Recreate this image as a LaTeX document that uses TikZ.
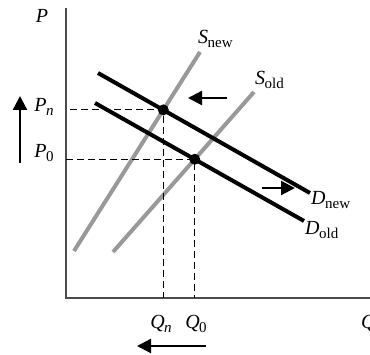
\documentclass[tikz,border=0pt]{standalone}
\usepackage{fontspec}
\setmainfont{Liberation Serif}
\usepackage{tikz}
\usetikzlibrary{arrows.meta}
\newcommand{\vname}[2]{{\itshape #1}\kern-0.5pt\raisebox{-4pt}{\fontsize{15}{15}\selectfont #2}}
\tikzset{
  ax/.style={line width=1.3pt, black!70},
  dem/.style={line width=4pt, black},
  sup/.style={line width=4pt, black!40},
  guide/.style={line width=0.9pt, dash pattern=on 7pt off 4pt},
  eq/.style={circle, fill=black, inner sep=0pt, minimum size=11pt},
  mv/.style={-{Triangle[length=14pt, width=14pt]}, line width=2.3pt},
  lbl/.style={font=\fontsize{20}{22}\selectfont, inner sep=1pt}
}
\begin{document}
\begin{tikzpicture}[x=1pt, y=1pt]
  \useasboundingbox (0,0) rectangle (370,355);
  % axes
  \coordinate (o) at (66,57);
  \coordinate (ytop) at (66,347);
  \coordinate (xend) at (372,57);
  \draw[ax] (ytop) -- (o) -- (xend);
  \node[lbl] (p) at (42,339) {\itshape P};
  % curves
  \coordinate (snew1) at (74,104);
  \coordinate (snew2) at (200,303);
  \coordinate (sold1) at (113,103);
  \coordinate (sold2) at (254,263);
  \coordinate (dnew1) at (98,282);
  \coordinate (dnew2) at (310,162);
  \coordinate (dold1) at (95,252);
  \coordinate (dold2) at (304,134);
  \draw[sup] (snew1) -- (snew2);
  \draw[sup] (sold1) -- (sold2);
  \draw[dem] (dnew1) -- (dnew2);
  \draw[dem] (dold1) -- (dold2);
  \coordinate (en) at (intersection of snew1--snew2 and dnew1--dnew2);
  \coordinate (e0) at (intersection of sold1--sold2 and dold1--dold2);
  % guides to the axes
  \draw[guide] (en -| 70,0) -- (en) -- (en |- o);
  \draw[guide] (e0 -| o) -- (e0) -- (e0 |- o);
  \node[eq] (ptn) at (en) {};
  \node[eq] (pt0) at (e0) {};
  % labels
  \node[lbl, anchor=base west] (snewlbl) at (197,311) {\vname{S}{new}};
  \node[lbl, anchor=base west] (soldlbl) at (254,270) {\vname{S}{old}};
  \node[lbl, anchor=base west] (dnewlbl) at (310,150) {\vname{D}{new}};
  \node[lbl, anchor=base west] (doldlbl) at (304,120) {\vname{D}{old}};
  \node[lbl, anchor=base] (pn) at (44,243) {\vname{P}{\itshape n}};
  \node[lbl, anchor=base] (p0) at (44,197) {\vname{P}{0}};
  \node[lbl, anchor=base] (qn) at (161,26) {\vname{Q}{\itshape n}};
  \node[lbl, anchor=base] (q0) at (196,26) {\vname{Q}{0}};
  \node[lbl, anchor=base west] (q) at (360,26) {\itshape Q};
  % shift arrows
  \coordinate (sa1) at (227,257);
  \coordinate (sa2) at (188,257);
  \coordinate (da1) at (262,167);
  \coordinate (da2) at (295,167);
  \coordinate (pa1) at (20,192);
  \coordinate (pa2) at (20,259);
  \coordinate (qa1) at (206,9);
  \coordinate (qa2) at (137,9);
  \draw[mv] (sa1) -- (sa2);
  \draw[mv] (da1) -- (da2);
  \draw[mv] (pa1) -- (pa2);
  \draw[mv] (qa1) -- (qa2);
\end{tikzpicture}
\end{document}
